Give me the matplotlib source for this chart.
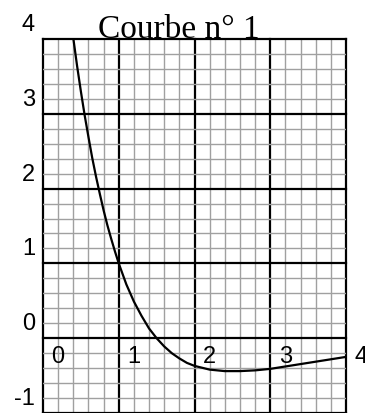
import matplotlib
matplotlib.use('Agg')
import matplotlib.pyplot as plt
import numpy as np

# points
xs = [0.40, 0.45, 0.50, 0.55, 0.60, 0.65, 0.70, 0.75, 0.80, 0.85, 0.90, 0.95,
      1.00, 1.10, 1.20, 1.30, 1.40, 1.50, 1.60, 1.70, 1.80, 1.90, 2.00, 2.20,
      2.40, 2.60, 2.80, 3.00, 3.25, 3.50, 3.75, 4.00]
ys = [4.01, 3.64, 3.30, 2.98, 2.69, 2.41, 2.16, 1.93, 1.71, 1.51, 1.33, 1.16,
      1.00, 0.72, 0.49, 0.30, 0.13, 0.00, -0.11, -0.20, -0.27, -0.33, -0.37, -0.42,
      -0.44, -0.44, -0.43, -0.41, -0.37, -0.33, -0.29, -0.25]

xticks = [0, 1, 2, 3, 4]
yticks = [-1, 0, 1, 2, 3, 4]
title = "Courbe n° 1"

fig = plt.figure(figsize=(3.65, 4.14), dpi=100)
ax = fig.add_axes([43/365, 0, 303/365, 1 - 40/414])
ax.set_xlim(0, 4)
ax.set_ylim(-0.94, 4)

# millimetre style grid
ax.set_xticks(xticks)
ax.set_yticks(yticks)
ax.set_xticks(np.arange(0, 4.01, 0.2), minor=True)
ax.set_yticks(np.arange(-1, 4.01, 0.2), minor=True)
ax.grid(which='minor', color='#a0a0a0', lw=1.0)
ax.grid(which='major', color='black', lw=1.6)
for ln in ax.get_xgridlines() + ax.get_ygridlines():
    ln.set_clip_on(False)
ax.set_axisbelow(True)
ax.tick_params(which='both', length=0, labelbottom=False, labelleft=False)
for s in ax.spines.values():
    s.set_visible(False)

ax.plot(xs, ys, color='black', lw=1.6, zorder=3)

for v in yticks:
    ax.text(-0.105, v + 0.2, str(v), ha='right', va='center',
            fontsize=17, family='Liberation Sans', clip_on=False)
for v in xticks:
    ax.text(v + 0.2, -0.24, str(v), ha='center', va='center',
            fontsize=17, family='Liberation Sans', clip_on=False)

fig.text(178.5/365, 1 - 38/414, title, ha='center', va='baseline',
         fontsize=24, family='Liberation Serif')

fig.savefig('out.png', dpi=100)
